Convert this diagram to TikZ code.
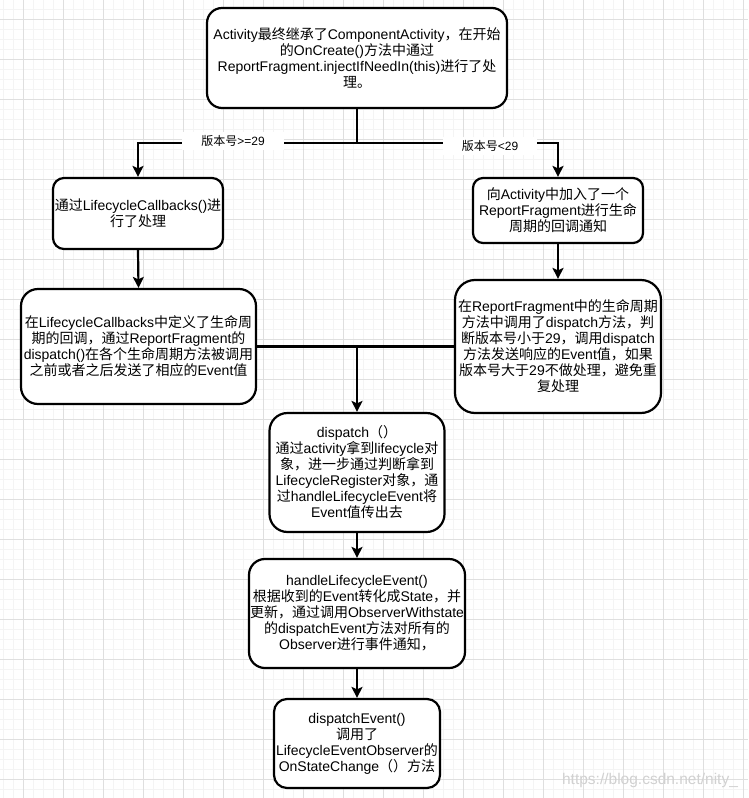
\documentclass[tikz,border=0pt]{standalone}
\usepackage{fontspec}
\setmainfont{Liberation Sans}
\newfontfamily\cjkf{Noto Sans CJK SC}
\usetikzlibrary{arrows.meta}
\XeTeXinterchartokenstate=1
\newXeTeXintercharclass\CJKcls
\makeatletter
\def\setcjkrange#1#2{\count@=#1\relax\loop\XeTeXcharclass\count@=\CJKcls\relax\ifnum\count@<#2\advance\count@ by 1\relax\repeat}
\makeatother
\setcjkrange{"3000}{"303F}
\setcjkrange{"4E00}{"9FFF}
\setcjkrange{"FF00}{"FFEF}
\XeTeXinterchartoks 0 \CJKcls = {\begingroup\cjkf}
\XeTeXinterchartoks 4095 \CJKcls = {\begingroup\cjkf}
\XeTeXinterchartoks \CJKcls 0 = {\endgroup}
\XeTeXinterchartoks \CJKcls 4095 = {\endgroup}
\definecolor{minorgrid}{HTML}{F4F4F4}
\definecolor{majorgrid}{HTML}{DFDFDF}
\tikzset{
  box/.style={draw, line width=2.2pt, fill=white, align=center, inner sep=0pt,
    font=\fontsize{14}{16}\selectfont},
  arr/.style={line width=2.2pt, -{Stealth[length=11pt,width=11pt,inset=2.5pt]}},
  conn/.style={line width=2.2pt},
  lbl/.style={fill=white, inner xsep=19pt, inner ysep=3pt, font=\fontsize{12}{14}\selectfont},
}
\begin{document}
\begin{tikzpicture}[x=1pt,y=-1pt]
\useasboundingbox (0,0) rectangle (748,798);
\fill[white] (0,0) rectangle (748,798);
% grid
\foreach \x in {3,13,...,743} \draw[minorgrid, line width=1pt] (\x,0) -- (\x,798);
\foreach \y in {9,19,...,789} \draw[minorgrid, line width=1pt] (0,\y) -- (748,\y);
\foreach \x in {23,63,...,743} \draw[majorgrid, line width=1pt] (\x,0) -- (\x,798);
\foreach \y in {19,59,...,779} \draw[majorgrid, line width=1pt] (0,\y) -- (748,\y);

% nodes
\node[box, minimum width=300pt, minimum height=100pt, rounded corners=15pt] (top) at (357,58)
  {Activity最终继承了ComponentActivity，在开始\\的OnCreate()方法中通过\\ReportFragment.injectIfNeedIn(this)进行了处\\理。};
\node[box, minimum width=170pt, minimum height=71pt, rounded corners=11pt] (A) at (138,213.5)
  {通过LifecycleCallbacks()进\\行了处理};
\node[box, minimum width=235pt, minimum height=115pt, rounded corners=17pt] (B) at (138.5,346.5)
  {在LifecycleCallbacks中定义了生命周\\期的回调，通过ReportFragment的\\dispatch()在各个生命周期方法被调用\\之前或者之后发送了相应的Event值};
\node[box, minimum width=170pt, minimum height=65pt, rounded corners=10pt] (C) at (558,210.5)
  {向Activity中加入了一个\\ReportFragment进行生命\\周期的回调通知};
\node[box, minimum width=206pt, minimum height=133pt, rounded corners=20pt] (D) at (558,346.5)
  {在ReportFragment中的生命周期\\方法中调用了dispatch方法，判\\断版本号小于29，调用dispatch\\方法发送响应的Event值，如果\\版本号大于29不做处理，避免重\\复处理};
\node[box, minimum width=175pt, minimum height=119pt, rounded corners=18pt] (E) at (357,472.5)
  {dispatch（）\\通过activity拿到lifecycle对\\象，进一步通过判断拿到\\LifecycleRegister对象，通\\过handleLifecycleEvent将\\Event值传出去};
\node[box, minimum width=216pt, minimum height=109pt, rounded corners=16pt] (F) at (357,613.5)
  {handleLifecycleEvent()\\根据收到的Event转化成State，并\\更新，通过调用ObserverWithstate\\的dispatchEvent方法对所有的\\Observer进行事件通知，};
\node[box, minimum width=166pt, minimum height=89pt, rounded corners=13pt] (G) at (357,743.5)
  {dispatchEvent()\\调用了\\LifecycleEventObserver的\\OnStateChange（）方法};

% connectors
\coordinate (J) at (357,143);
\coordinate (K) at (357,346.5);
\draw[arr] (top.south) -- (J) -| (A.north);
\draw[arr] (top.south) -- (J) -| (C.north);
\draw[arr] (A.south) -- (B.north);
\draw[arr] (C.south) -- (D.north);
\draw[conn] (B.east) -- (D.west);
\draw[arr] (K) -- (K |- E.north);
\draw[arr] (E.south) -- (F.north);
\draw[arr] (F.south) -- (G.north);

% branch labels
\node[lbl] (l1) at (233,141) {版本号>=29};
\node[lbl] (l2) at (490,146) {版本号<29};

% watermark
\node[text=black!18, font=\fontsize{15.5}{17}\selectfont, inner sep=0pt] (wm) at (650,780) {https://blog.csdn.net/nity\_};
\end{tikzpicture}
\end{document}
